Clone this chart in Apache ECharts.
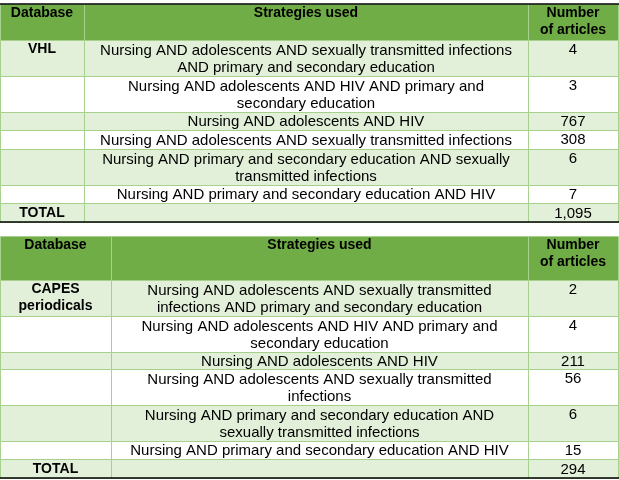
<!DOCTYPE html>
<html>
<head>
<meta charset="utf-8">
<script src="https://cdn.jsdelivr.net/npm/echarts@6/dist/echarts.min.js"></script>
<style>html,body{margin:0;padding:0;background:#fff}#main{width:619px;height:480px}</style>
</head>
<body>
<div id="main"></div>
<script>
// table content
var headers = ['Database', 'Strategies used', 'Number\nof articles'];
var vhlName = 'VHL';
var vhlStrategies = [
    'Nursing AND adolescents AND sexually transmitted infections\nAND primary and secondary education',
    'Nursing AND adolescents AND HIV AND primary and\nsecondary education',
    'Nursing AND adolescents AND HIV',
    'Nursing AND adolescents AND sexually transmitted infections',
    'Nursing AND primary and secondary education AND sexually\ntransmitted infections',
    'Nursing AND primary and secondary education AND HIV'
];
var vhlCounts = ['4', '3', '767', '308', '6', '7'];
var vhlTotal = '1,095';
var capesName = 'CAPES\nperiodicals';
var capesStrategies = [
    'Nursing AND adolescents AND sexually transmitted\ninfections AND primary and secondary education',
    'Nursing AND adolescents AND HIV AND primary and\nsecondary education',
    'Nursing AND adolescents AND HIV',
    'Nursing AND adolescents AND sexually transmitted\ninfections',
    'Nursing AND primary and secondary education AND\nsexually transmitted infections',
    'Nursing AND primary and secondary education AND HIV'
];
var capesCounts = ['2', '4', '211', '56', '6', '15'];
var capesTotal = '294';

// layout
var rowsVhl = [4, 40, 76, 112, 130, 149, 185, 203, 222];
var rowsCapes = [236, 280, 316, 352, 369, 405, 441, 459, 478];
var GREEN = '#70ad47', LIGHT = '#e2efd9', LINE = '#a8d08d';

function buildTable(rows, col1, name, strategies, counts, total) {
    var cols = [0, col1, 528, 618];
    var cells = [];
    function add(r, c, fill, text, bold, valign) {
        cells.push([cols[c], rows[r], cols[c + 1], rows[r + 1], fill, text, bold ? 1 : 0, valign]);
    }
    for (var c = 0; c < 3; c++) add(0, c, GREEN, headers[c], true, 'top');
    for (var i = 0; i < strategies.length; i++) {
        var fill = i % 2 === 0 ? LIGHT : '#ffffff';
        add(i + 1, 0, fill, i === 0 ? name : '', true, 'top');
        add(i + 1, 1, fill, strategies[i], false, 'middle');
        add(i + 1, 2, fill, counts[i], false, 'top');
    }
    var last = strategies.length + 1;
    add(last, 0, LIGHT, 'TOTAL', true, 'middle');
    add(last, 1, LIGHT, '', false, 'middle');
    add(last, 2, LIGHT, total, false, 'middle');
    return cells;
}

var cells = buildTable(rowsVhl, 84, vhlName, vhlStrategies, vhlCounts, vhlTotal)
    .concat(buildTable(rowsCapes, 111, capesName, capesStrategies, capesCounts, capesTotal));

var chart = echarts.init(document.getElementById('main'));
chart.setOption({
    animation: false,
    grid: {left: 0, right: 0, top: 0, bottom: 0},
    xAxis: {type: 'value', min: 0, max: 619, show: false},
    yAxis: {type: 'value', min: 0, max: 480, inverse: true, show: false},
    series: [{
        type: 'custom',
        data: cells,
        renderItem: function (params, api) {
            var d = cells[params.dataIndex];
            var p0 = api.coord([d[0], d[1]]);
            var p1 = api.coord([d[2], d[3]]);
            var w = p1[0] - p0[0], h = p1[1] - p0[1];
            var top = d[7] === 'top';
            return {
                type: 'group',
                children: [{
                    type: 'rect',
                    shape: {x: p0[0] + 0.5, y: p0[1] + 0.5, width: w, height: h},
                    style: {fill: d[4], stroke: LINE, lineWidth: 1}
                }, {
                    type: 'text',
                    style: {
                        x: p0[0] + w / 2,
                        y: top ? p0[1] + 1 : p0[1] + h / 2 + 1,
                        text: d[5],
                        align: 'center',
                        verticalAlign: top ? 'top' : 'middle',
                        font: (d[6] ? 'bold 14px ' : '15px ') + '"Liberation Sans", Arial, sans-serif',
                        lineHeight: 17,
                        fill: '#000'
                    }
                }]
            };
        }
    }, {
        type: 'lines',
        coordinateSystem: 'cartesian2d',
        lineStyle: {color: '#000', width: 1.5, opacity: 1},
        data: [
            {coords: [[0, rowsVhl[0]], [619, rowsVhl[0]]]},
            {coords: [[0, rowsVhl[8]], [619, rowsVhl[8]]]},
            {coords: [[0, rowsCapes[8]], [619, rowsCapes[8]]]}
        ]
    }]
});
</script>
</body>
</html>
